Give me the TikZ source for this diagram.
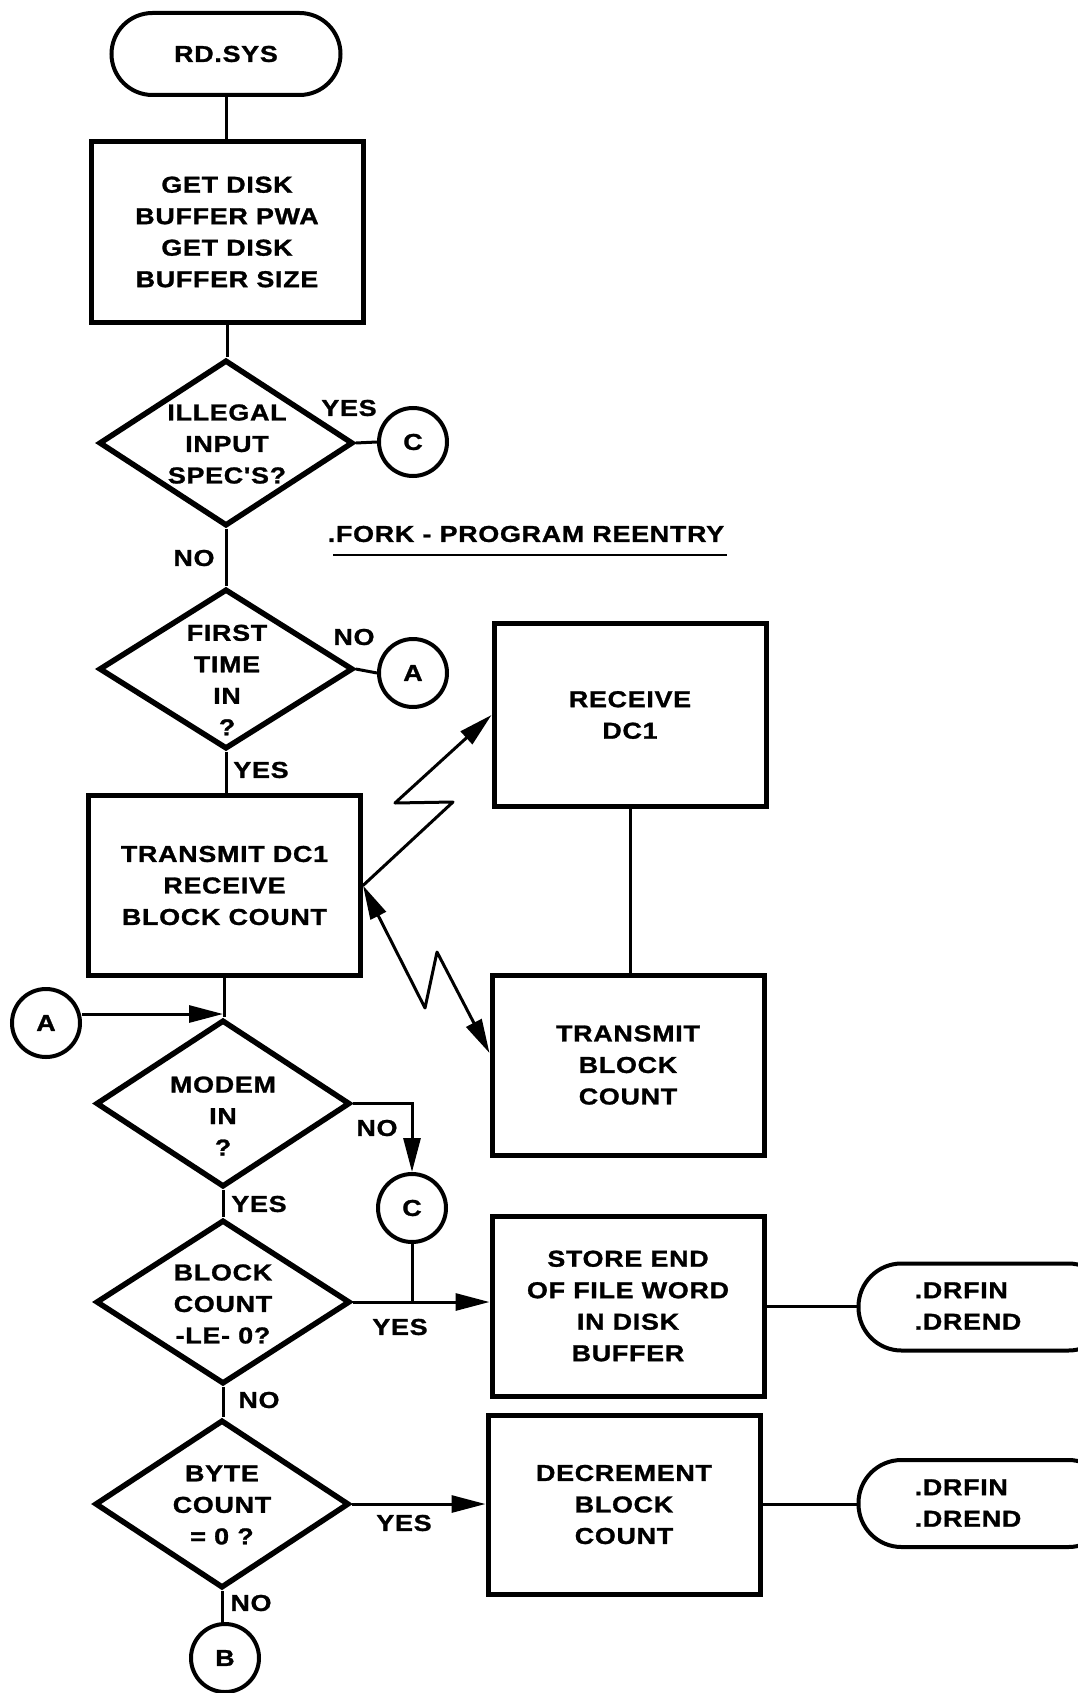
\documentclass[tikz,border=0pt]{standalone}
\usepackage{fontspec}
\newfontfamily\dfont[FakeStretch=1.17,LetterSpace=3,FakeBold=1.2]{Liberation Sans Bold}
\usetikzlibrary{shapes.geometric,arrows.meta,calc}
\begin{document}
\begin{tikzpicture}[x=1pt,y=-1pt,
  txt/.style={font=\dfont\fontsize{23}{31.5}\selectfont, align=center, inner sep=0pt},
  boxst/.style={txt, draw, line width=5pt, minimum width=272pt, minimum height=180pt},
  dia/.style={draw, shape=diamond, line width=5.5pt, inner sep=0pt, minimum width=254pt, minimum height=166pt},
  circ/.style={txt, draw, circle, line width=4pt, minimum size=68pt},
  term/.style={txt, draw, rectangle, rounded corners=41pt, line width=4pt, minimum width=229pt, minimum height=82pt},
  termr/.style={draw, rectangle, rounded corners=43pt, line width=4pt, minimum width=253pt, minimum height=87pt, inner sep=0pt},
  conn/.style={line width=3pt},
  arr/.style={conn, -{Triangle[length=34pt,width=17pt]}},
  zig/.style={line width=3pt, line join=round},
]
\useasboundingbox (0,0) rectangle (1077,1693);
\fill[white] (0,0) rectangle (1077,1693);

% main column
\node[term] (t1) at (226,54) {RD.SYS};
\node[boxst] (b1) at (227,232) {GET DISK\\BUFFER PWA\\GET DISK\\BUFFER SIZE};
\node[dia] (d1) at (226,443) {};
\node[txt] (d1t) at (227,444) {ILLEGAL\\INPUT\\SPEC'S?};
\node[circ] (c1) at (413,442) {C};
\node[txt] (y1) at (349,408) {YES};

\node[txt] (fork) at (526,534) {.FORK - PROGRAM REENTRY};
\coordinate (fl) at (333,555);
\coordinate (fr) at (727,555);

\node[txt] (n1) at (194,558) {NO};
\node[dia, minimum height=160pt] (d2) at (226,669) {};
\node[txt] (d2t) at (227,680) {FIRST\\TIME\\IN\\?};
\node[circ] (a1) at (413,673) {A};
\node[txt] (n2) at (354,637) {NO};
\node[txt] (y2) at (261,770) {YES};

\node[boxst] (b2) at (224.5,885.5) {TRANSMIT DC1\\RECEIVE\\BLOCK COUNT};
\node[boxst, minimum height=183pt] (b3) at (630,715) {RECEIVE\\DC1};
\node[boxst] (b4) at (628,1065) {TRANSMIT\\BLOCK\\COUNT};

\node[circ] (a2) at (46,1023) {A};
\coordinate (m) at (223,1014);

\node[dia, minimum height=167pt] (d3) at (223,1103.5) {};
\node[txt] (d3t) at (223,1116) {MODEM\\IN\\?};
\node[circ] (c2) at (412,1208) {C};
\node[txt] (n3) at (377,1128) {NO};
\node[txt] (y3) at (259,1204) {YES};

\node[dia, minimum height=164pt] (d4) at (223,1302) {};
\node[txt] (d4t) at (223,1304) {BLOCK\\COUNT\\-LE- 0?};
\node[boxst] (b5) at (628,1306) {STORE END\\OF FILE WORD\\IN DISK\\BUFFER};
\node[txt] (y4) at (400,1327) {YES};
\node[termr] (t2) at (985,1307) {};
\node[txt, align=left] (t2t) at (968,1306) {.DRFIN\\.DREND};

\node[txt] (n4) at (259,1400) {NO};
\node[dia, minimum height=168pt] (d5) at (222,1504) {};
\node[txt] (d5t) at (222,1505) {BYTE\\COUNT\\= 0 ?};
\node[boxst, minimum height=179pt] (b6) at (624,1504.5) {DECREMENT\\BLOCK\\COUNT};
\node[txt] (y5) at (404,1523) {YES};
\node[termr] (t3) at (985,1503.5) {};
\node[txt, align=left] (t3t) at (968,1503) {.DRFIN\\.DREND};

\node[txt] (n5) at (251,1603) {NO};
\node[circ] (bb) at (225,1658) {B};

% connectors
\draw[conn] (t1.south) -- (t1.south |- b1.north);
\draw[conn] (b1.south) -- (b1.south |- d1.north);
\draw[conn] (d1.east) -- (c1.west);
\draw[line width=2.5pt] (fl) -- (fr);
\draw[conn] (d1.south) -- (d2.north);
\draw[conn] (d2.east) -- (a1.west);
\draw[conn] (d2.south) -- (d2.south |- b2.north);
\draw[conn] (b2.south) -- (b2.south |- d3.north);
\draw[arr] (a2.east |- m) -- (m);
\draw[conn] (b3.south) -- (b3.south |- b4.north);

% lightning links
\draw[zig, -{Triangle[length=34pt,width=17pt]}] (b2.east) -- (453,802) -- (395,803) -- (b3.west);
\coordinate (z4) at ($(b4.west)+(0,-12)$);
\draw[zig, {Triangle[length=34pt,width=17pt]}-{Triangle[length=34pt,width=17pt]}] (b2.east) -- (425,1008) -- (437,952) -- (z4);

\draw[arr] (d3.east) -| (c2.north);
\draw[conn] (d3.south) -- (d4.north);
\draw[arr] (d4.east) -- (d4.east -| b5.west);
\draw[conn] (c2.south) -- (c2.south |- d4.east);
\draw[conn] (b5.east) -- (b5.east -| t2.west);
\draw[conn] (d4.south) -- (d4.south |- d5.north);
\draw[arr] (d5.east) -- (d5.east -| b6.west);
\draw[conn] (b6.east) -- (b6.east -| t3.west);
\draw[conn] (d5.south) -- (d5.south |- bb.north);
\end{tikzpicture}
\end{document}
